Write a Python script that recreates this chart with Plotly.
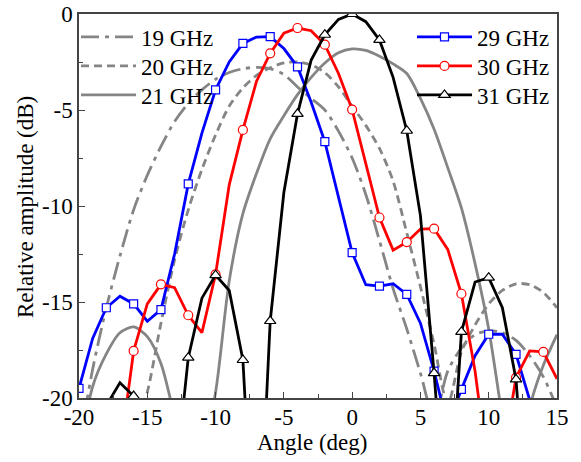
import plotly.graph_objects as go

angles = list(range(-20, 16))

amp_29 = [-19.5, -16.9, -15.3, -14.7, -15.1, -16.0, -15.4, -12.5, -8.85, -6.2,
          -3.95, -2.5, -1.53, -1.2, -1.18, -1.8, -2.75, -4.6, -6.65, -9.6,
          -12.43, -14.1, -14.17, -14.05, -14.6, -16.1, -18.6, -21.5, -19.55, -17.8,
          -16.68, -16.68, -17.73, -20.1, -23.0, -25.0]
amp_30 = [-28.0, -27.0, -25.0, -22.9, -17.55, -15.1, -14.08, -14.25, -15.69, -16.6,
          -13.56, -8.9, -6.04, -3.5, -2.05, -1.0, -0.73, -0.87, -1.6, -3.1,
          -4.98, -7.8, -10.6, -12.3, -11.88, -11.2, -11.18, -12.26, -14.57, -18.6,
          -24.0, -23.2, -18.94, -17.55, -17.6, -19.0]
amp_31 = [-30.0, -28.0, -20.4, -19.2, -19.9, -26.0, -30.0, -24.7, -17.9, -14.8,
          -13.6, -14.4, -18.02, -31.0, -15.99, -9.3, -5.2, -2.4, -1.08, -0.28,
          0.0, -0.4, -1.35, -3.3, -6.08, -10.5, -18.7, -28.0, -16.56, -13.96,
          -13.73, -15.3, -19.03, -28.7, -30.0, -30.0]
amp_19 = [-22.5, -18.5, -15.3, -12.6, -10.2, -8.4, -6.9, -5.6, -4.65, -3.95,
          -3.4, -3.05, -2.85, -2.78, -2.85, -3.15, -3.8, -4.4, -5.0, -6.1,
          -7.5, -9.4, -11.8, -14.3, -16.4, -18.7, -21.0, -18.6, -17.4, -16.7,
          -16.5, -16.6, -17.0, -17.8, -18.9, -20.5]
amp_20 = [-30.0, -28.0, -26.0, -24.0, -22.0, -19.7, -16.1, -12.8, -10.2, -8.1,
          -6.3, -4.8, -3.85, -3.2, -2.8, -2.55, -2.5, -2.65, -3.05, -3.8,
          -4.8, -5.8, -7.0, -8.7, -11.4, -14.2, -17.2, -20.3, -17.6, -16.2,
          -15.1, -14.4, -14.05, -14.1, -14.5, -15.3]
amp_21 = [-23.0, -19.4, -17.7, -16.6, -16.3, -16.8, -18.2, -21.0, -24.0, -23.0,
          -19.7, -13.9, -10.4, -8.3, -6.5, -5.3, -4.2, -3.3, -2.55, -2.02,
          -1.82, -1.9, -2.2, -2.6, -3.1, -4.4, -6.0, -8.0, -10.1, -13.0,
          -16.4, -21.0, -25.0, -20.5, -18.3, -16.7]

x_tick_vals = [-20, -15, -10, -5, 0, 5, 10, 15]
x_tick_text = ["-20", "-15", "-10", "-5", "0", "5", "10", "15"]
y_tick_vals = [0, -5, -10, -15, -20]
y_tick_text = ["0", "-5", "-10", "-15", "-20"]

FONT = "Liberation Serif"
GRAY = "#858585"

W, H = 581, 462
ML, MR, MT, MB = 79, 24, 14, 64
PW = W - ML - MR
PH = H - MT - MB

def px_x(px):   # window pixel -> paper x
    return (px - ML) / PW

def px_y(py):   # window pixel -> paper y
    return 1 - (py - MT) / PH

fig = go.Figure()

row_y = [37, 66, 95]

gray_series = [
    ("19 GHz", amp_19, "18px,6px,4px,6px"),
    ("20 GHz", amp_20, "8px,5px"),
    ("21 GHz", amp_21, "solid"),
]
for i, (name, vals, dash) in enumerate(gray_series):
    fig.add_trace(go.Scatter(
        x=angles, y=vals, mode="lines", name=name,
        line=dict(color=GRAY, width=2.8, dash=dash, shape="spline", smoothing=0.8),
        legend="legend" if i == 0 else f"legend{i + 1}",
    ))

color_series = [
    ("29 GHz", amp_29, "#0000ff", "square", 8),
    ("30 GHz", amp_30, "#ff0000", "circle", 9),
    ("31 GHz", amp_31, "#000000", "triangle-up", 10),
]
for i, (name, vals, color, sym, size) in enumerate(color_series):
    fig.add_trace(go.Scatter(
        x=angles, y=vals, mode="lines", name=name, showlegend=False,
        line=dict(color=color, width=2.8), hoverinfo="skip",
    ))
    fig.add_trace(go.Scatter(
        x=angles[::2], y=vals[::2], mode="markers", name=name, showlegend=False,
        marker=dict(symbol=sym, size=size, color="white",
                    line=dict(color=color, width=1.2)),
    ))
    fig.add_trace(go.Scatter(
        x=[None], y=[None], mode="lines+markers", name=name,
        line=dict(color=color, width=2.8),
        marker=dict(symbol=sym, size=size, color="white",
                    line=dict(color=color, width=1.2)),
        legend=f"legend{i + 4}",
    ))

axis_common = dict(
    showgrid=False, zeroline=False, showline=True, linecolor="#444444",
    linewidth=1.5, mirror=True, ticks="inside", tickcolor="#444444",
    ticklen=6, tickwidth=1.2, automargin=False, ticklabeloverflow="allow",
    tickfont=dict(family=FONT, size=23, color="black"),
    minor=dict(ticks="inside", ticklen=4, tickcolor="#444444", tickwidth=1.2,
               dtick=2.5),
)

fig.update_xaxes(range=[-20, 15], tickvals=x_tick_vals, ticktext=x_tick_text,
                 ticklabelstandoff=-2, **axis_common)
fig.update_xaxes(minor_tick0=-20)
fig.update_yaxes(range=[-20, 0], tickvals=y_tick_vals, ticktext=y_tick_text,
                 **axis_common)
fig.update_yaxes(minor_tick0=0)

legend_common = dict(
    bgcolor="rgba(0,0,0,0)", borderwidth=0,
    font=dict(family=FONT, size=23, color="black"),
    itemwidth=55, yanchor="middle", xanchor="left",
)
legends = {}
for i in range(6):
    key = "legend" if i == 0 else f"legend{i + 1}"
    lx = px_x(76) if i < 3 else px_x(412)
    ly = px_y(row_y[i % 3])
    legends[key] = dict(x=lx, y=ly, **legend_common)

fig.update_layout(
    width=W, height=H,
    margin=dict(l=ML, r=MR, t=MT, b=MB, autoexpand=False),
    paper_bgcolor="white", plot_bgcolor="white",
    font=dict(family=FONT, size=23, color="black"),
    showlegend=True,
    **legends,
)

fig.add_annotation(
    text="Angle (deg)", xref="paper", yref="paper",
    x=px_x(312), y=px_y(442), xanchor="center", yanchor="middle",
    showarrow=False, font=dict(family=FONT, size=23, color="black"),
)
fig.add_annotation(
    text="Relative amplitude (dB)", xref="paper", yref="paper",
    x=px_x(25), y=px_y(207), xanchor="center", yanchor="middle",
    textangle=-90, showarrow=False,
    font=dict(family=FONT, size=23, color="black"),
)

fig.write_html("out.html", config={"displayModeBar": False},
               post_script="document.body.style.margin='0px';")
